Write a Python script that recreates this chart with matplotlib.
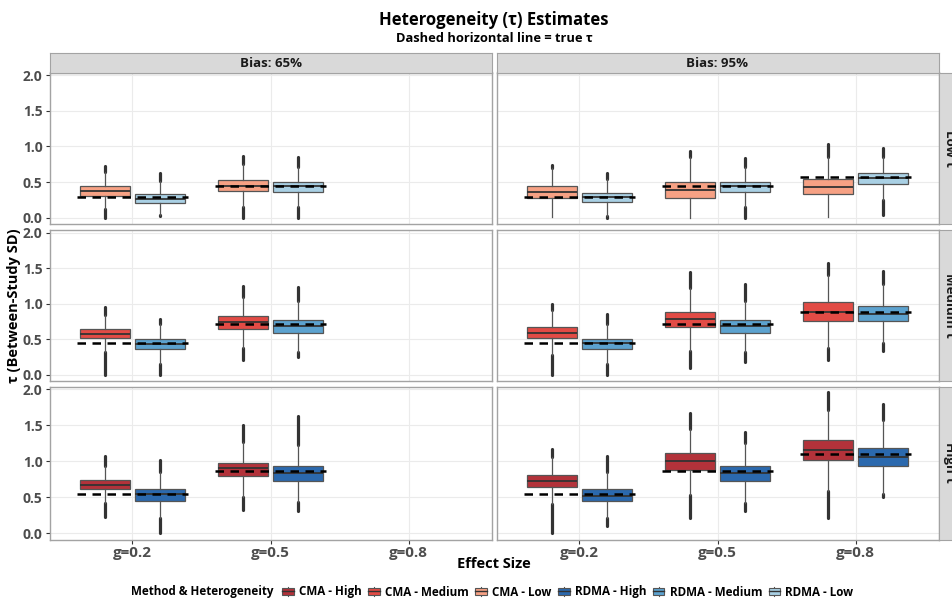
import matplotlib.pyplot as plt
from matplotlib.patches import Patch, Rectangle
from matplotlib.lines import Line2D

plt.rcParams["font.family"] = ["Open Sans", "Noto Sans", "DejaVu Sans"]

# Categories
effect_sizes = ["g=0.2", "g=0.5", "g=0.8"]
bias_labels = ["Bias: 65%", "Bias: 95%"]
het_levels = ["Low", "Medium", "High"]
methods = ["CMA", "RDMA"]

# True tau per effect size (dashed reference)
true_tau_low = [0.285, 0.45, 0.57]
true_tau_medium = [0.45, 0.71, 0.89]
true_tau_high = [0.55, 0.87, 1.10]

# Box summaries: (min, q1, median, q3, max) per effect size
cma_low_65 = [(0.00, 0.31, 0.37, 0.44, 0.73), (0.00, 0.38, 0.45, 0.53, 0.86)]
rdma_low_65 = [(0.02, 0.21, 0.26, 0.33, 0.63), (0.00, 0.36, 0.45, 0.50, 0.85)]
cma_low_95 = [(0.01, 0.27, 0.36, 0.44, 0.74), (0.00, 0.27, 0.39, 0.50, 0.94),
              (0.01, 0.33, 0.43, 0.54, 1.03)]
rdma_low_95 = [(0.00, 0.22, 0.29, 0.35, 0.63), (0.00, 0.36, 0.45, 0.50, 0.84),
               (0.04, 0.47, 0.56, 0.62, 0.98)]

cma_medium_65 = [(0.00, 0.51, 0.575, 0.64, 0.95), (0.21, 0.65, 0.74, 0.83, 1.25)]
rdma_medium_65 = [(0.00, 0.36, 0.43, 0.50, 0.79), (0.25, 0.59, 0.68, 0.77, 1.24)]
cma_medium_95 = [(0.00, 0.51, 0.59, 0.67, 1.00), (0.09, 0.67, 0.78, 0.89, 1.45),
                 (0.21, 0.76, 0.89, 1.02, 1.58)]
rdma_medium_95 = [(0.00, 0.36, 0.44, 0.50, 0.86), (0.18, 0.59, 0.68, 0.77, 1.28),
                  (0.34, 0.76, 0.86, 0.97, 1.46)]

cma_high_65 = [(0.22, 0.61, 0.67, 0.74, 1.07), (0.32, 0.79, 0.90, 0.98, 1.51)]
rdma_high_65 = [(0.00, 0.45, 0.54, 0.61, 1.01), (0.31, 0.73, 0.83, 0.93, 1.63)]
cma_high_95 = [(0.00, 0.645, 0.73, 0.81, 1.17), (0.21, 0.88, 1.00, 1.11, 1.67),
               (0.21, 1.01, 1.15, 1.29, 1.96)]
rdma_high_95 = [(0.10, 0.45, 0.52, 0.61, 1.07), (0.30, 0.73, 0.83, 0.94, 1.40),
                (0.50, 0.93, 1.06, 1.19, 1.80)]

box_data = {
    ("Low", 0): (cma_low_65, rdma_low_65),
    ("Low", 1): (cma_low_95, rdma_low_95),
    ("Medium", 0): (cma_medium_65, rdma_medium_65),
    ("Medium", 1): (cma_medium_95, rdma_medium_95),
    ("High", 0): (cma_high_65, rdma_high_65),
    ("High", 1): (cma_high_95, rdma_high_95),
}
true_tau = {"Low": true_tau_low, "Medium": true_tau_medium, "High": true_tau_high}

colors = {
    ("CMA", "High"): "#B3323A",
    ("CMA", "Medium"): "#E24B45",
    ("CMA", "Low"): "#F6A184",
    ("RDMA", "High"): "#2B69AE",
    ("RDMA", "Medium"): "#5CA2CF",
    ("RDMA", "Low"): "#A9D0E4",
}

W, H = 952, 604
TXT = "#4D4D4D"
BORDER = "#A3A3A3"
col_px = [(49.5, 491.5), (496.5, 938.5)]
row_px = [(72.5, 224.0), (230.0, 381.0), (386.5, 539.5)]


def frac(x0, y0, x1, y1):
    return [x0 / W, 1 - y1 / H, (x1 - x0) / W, (y1 - y0) / H]


class BoxKeyHandler:
    """Legend key: filled box with a median line and short whisker stubs."""

    def legend_artist(self, legend, orig_handle, fontsize, handlebox):
        x0, y0 = -handlebox.xdescent, -handlebox.ydescent
        w, h = handlebox.width, handlebox.height
        tr = handlebox.get_transform()
        handlebox.add_artist(Line2D([x0 + w / 2] * 2, [y0 - 0.1 * h, y0 + 1.1 * h],
                                    color="#555555", lw=0.8, transform=tr))
        rect = Rectangle((x0, y0 + 0.1 * h), w, 0.8 * h,
                         facecolor=orig_handle.get_facecolor(),
                         edgecolor="#555555", lw=0.8, transform=tr)
        handlebox.add_artist(rect)
        handlebox.add_artist(Line2D([x0, x0 + w], [y0 + h / 2] * 2, color="#333333",
                                    lw=1.0, transform=tr))
        return rect


fig = plt.figure(figsize=(W / 100, H / 100), dpi=100)

for r, level in enumerate(het_levels):
    for c, bias in enumerate(bias_labels):
        ax = fig.add_axes(frac(col_px[c][0], row_px[r][0], col_px[c][1], row_px[r][1]))
        ax.set_xlim(0.4, 3.6)
        ax.set_ylim(-0.09, 2.04)
        ax.set_yticks([0, 0.5, 1.0, 1.5, 2.0])
        ax.set_xticks([1, 2, 3])
        ax.grid(True, color="#EBEBEB", linewidth=0.8)
        ax.set_axisbelow(True)
        for sp in ax.spines.values():
            sp.set_color(BORDER)
            sp.set_linewidth(1.0)
        ax.tick_params(length=3, color="#333333", width=0.8, labelcolor=TXT, pad=2)

        for m, (method, series) in enumerate(zip(methods, box_data[(level, c)])):
            offset = -0.2 if m == 0 else 0.2
            stats = []
            positions = []
            for i, (lo, q1, med, q3, hi) in enumerate(series):
                iqr = q3 - q1
                whishi = min(hi, q3 + 1.5 * iqr)
                whislo = max(lo, q1 - 1.5 * iqr)
                stats.append(dict(med=med, q1=q1, q3=q3, whislo=whislo,
                                  whishi=whishi, fliers=[]))
                positions.append(i + 1 + offset)
                # dense outlier columns
                if hi > whishi:
                    ax.plot([i + 1 + offset] * 2, [whishi, hi], color="#333333",
                            lw=2.3, solid_capstyle="round", zorder=2)
                if lo < whislo:
                    ax.plot([i + 1 + offset] * 2, [lo, whislo], color="#333333",
                            lw=2.3, solid_capstyle="round", zorder=2)
            ax.bxp(stats, positions=positions, widths=0.36, patch_artist=True,
                   showcaps=False, showfliers=False, manage_ticks=False,
                   boxprops=dict(facecolor=colors[(method, level)],
                                 edgecolor="#555555", linewidth=0.9),
                   whiskerprops=dict(color="#555555", linewidth=0.9),
                   medianprops=dict(color="#333333", linewidth=1.3),
                   zorder=3)

        n = len(box_data[(level, c)][0])
        for i, t in enumerate(true_tau[level][:n]):
            ax.plot([i + 0.6, i + 1.4], [t, t], color="black", lw=1.8,
                    dashes=(3.4, 2.6), zorder=5)

        if c == 0:
            ax.set_yticklabels(["0.0", "0.5", "1.0", "1.5", "2.0"],
                               fontsize=10, fontweight="bold")
        else:
            ax.tick_params(axis="y", left=False, labelleft=False)
        if r == 2:
            ax.set_xticklabels(effect_sizes, fontsize=11, fontweight="bold")
        else:
            ax.tick_params(axis="x", bottom=False, labelbottom=False)

        # top strips
        if r == 0:
            sax = fig.add_axes(frac(col_px[c][0], 52.5, col_px[c][1], 72.5))
            sax.set_facecolor("#D9D9D9")
            sax.set_xticks([])
            sax.set_yticks([])
            for sp in sax.spines.values():
                sp.set_color(BORDER)
            sax.text(0.5, 0.45, bias, transform=sax.transAxes, ha="center",
                     va="center", fontsize=9.5, fontweight="bold", color="#1A1A1A")
        # right strips (clipped at the figure edge, as in the original)
        if c == 1:
            sax = fig.add_axes(frac(938.5, row_px[r][0], 960, row_px[r][1]))
            sax.set_facecolor("#D9D9D9")
            sax.set_xticks([])
            sax.set_yticks([])
            for sp in sax.spines.values():
                sp.set_color(BORDER)
            sax.text(0.5, 0.5, f"{level} \u03c4", transform=sax.transAxes,
                     ha="center", va="center", rotation=270, fontsize=9.5,
                     fontweight="bold", color="#1A1A1A")

fig.text(494 / W, 1 - 20 / H, "Heterogeneity (\u03c4) Estimates", ha="center",
         va="center", fontsize=12, fontweight="bold", color="black")
fig.text(494 / W, 1 - 39 / H, "Dashed horizontal line = true \u03c4", ha="center",
         va="center", fontsize=9.3, fontweight="bold", color="black")
fig.text(14 / W, 1 - 306 / H, "\u03c4 (Between-Study SD)", rotation=90, ha="center",
         va="center", fontsize=10.5, fontweight="bold", color="black")
fig.text(494 / W, 1 - 564 / H, "Effect Size", ha="center", va="center",
         fontsize=10.5, fontweight="bold", color="black")

# legend
fig.text(131 / W, 1 - 592 / H, "Method & Heterogeneity", ha="left", va="center",
         fontsize=8.4, fontweight="bold", color="black")
handles = []
labels = []
for method in methods:
    for level in ["High", "Medium", "Low"]:
        handles.append(Patch(facecolor=colors[(method, level)]))
        labels.append(f"{method} - {level}")
fig.legend(handles, labels, loc="center left", bbox_to_anchor=(282 / W, 1 - 592 / H),
           ncol=6, frameon=False, handlelength=1.0, handleheight=0.7,
           handletextpad=0.45, columnspacing=0.55, borderpad=0, borderaxespad=0,
           prop=dict(size=8.4, weight="bold"),
           handler_map={Patch: BoxKeyHandler()})

fig.savefig("out.png", dpi=100)
